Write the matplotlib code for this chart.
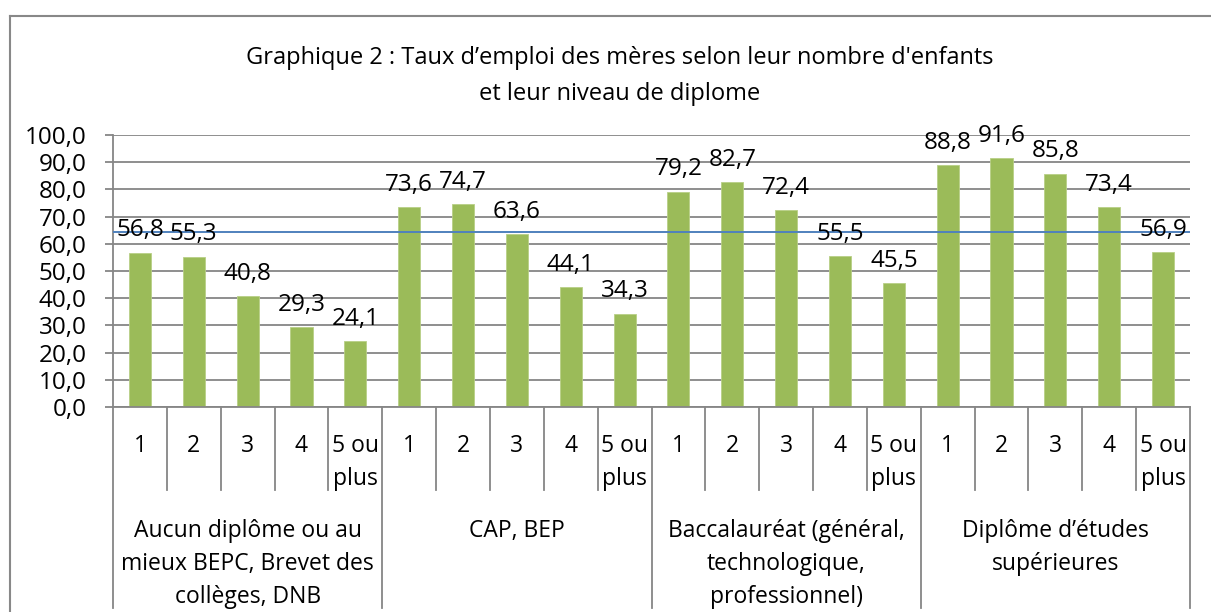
import matplotlib
matplotlib.use("Agg")
import matplotlib.pyplot as plt
from matplotlib import transforms
from matplotlib.lines import Line2D

plt.rcParams["font.family"] = ["Open Sans", "DejaVu Sans"]

# === DONNÉES ===
groupes = [
    ["Aucun diplôme ou au", "mieux BEPC, Brevet des", "collèges, DNB"],
    ["CAP, BEP"],
    ["Baccalauréat (général,", "technologique,", "professionnel)"],
    ["Diplôme d’études", "supérieures"],
]
nb_enfants = ["1", "2", "3", "4", "5 ou\nplus"]
taux = [
    [56.8, 55.3, 40.8, 29.3, 24.1],
    [73.6, 74.7, 63.6, 44.1, 34.3],
    [79.2, 82.7, 72.4, 55.5, 45.5],
    [88.8, 91.6, 85.8, 73.4, 56.9],
]
moyenne = 64.3
titre = ["Graphique 2 : Taux d’emploi des mères selon leur nombre d'enfants",
         "et leur niveau de diplome"]

W, H = 1211, 612
VERT = "#9BBB59"
BLEU = "#4F81BD"
GRIS = "#868686"
FS = 17.5
FS_CAT = 16.5
DY = 4  # petit décalage vertical des textes (px)


def fy(py):
    # pixel (depuis le haut) -> fraction de figure
    return 1 - py / H


fig = plt.figure(figsize=(W / 100, H / 100), dpi=100)
ax = fig.add_axes([113 / W, fy(407), (1190 - 113) / W, (407 - 135) / H])

valeurs = [v for g in taux for v in g]
x = list(range(len(valeurs)))
ax.bar(x, valeurs, width=0.41, color=VERT, edgecolor="#B8CF86", linewidth=0.6, zorder=2)
ax.axhline(moyenne, color=BLEU, lw=1.4, zorder=3)

for xi, v in zip(x, valeurs):
    ax.annotate(f"{v:.1f}".replace(".", ","), (xi, v), xytext=(0, 16),
                textcoords="offset points", ha="center", va="center",
                fontsize=FS, zorder=4)

ax.set_xlim(-0.5, len(valeurs) - 0.5)
ax.set_ylim(0, 100)
ax.set_yticks(range(0, 101, 10))
ax.set_yticklabels([f"{t},0" for t in range(0, 101, 10)], fontsize=FS)
ax.yaxis.grid(True, color=GRIS, lw=1.3, zorder=0)
ax.set_axisbelow(True)
ax.tick_params(axis="y", length=6, width=1.3, color=GRIS, pad=13)
ax.set_xticks([])
for s in ["top", "right"]:
    ax.spines[s].set_visible(False)
ax.spines["left"].set_color(GRIS)
ax.spines["left"].set_linewidth(1.3)
ax.spines["bottom"].set_color(GRIS)
ax.spines["bottom"].set_linewidth(1.3)

# axe des catégories à deux niveaux
tr = transforms.blended_transform_factory(ax.transData, fig.transFigure)
n = len(nb_enfants)
for i in range(len(valeurs) + 1):
    bas = 608 if i % n == 0 else 490
    ax.plot([i - 0.5, i - 0.5], [fy(407), fy(bas)], color=GRIS, lw=1.3,
            transform=tr, clip_on=False)

for gi, g in enumerate(groupes):
    for ci, lab in enumerate(nb_enfants):
        xi = gi * n + ci
        for li, ligne in enumerate(lab.split("\n")):
            ax.text(xi, fy(442 + DY + 33 * li), ligne, transform=tr, ha="center",
                    va="center", fontsize=FS_CAT)
    xc = gi * n + (n - 1) / 2
    for li, ligne in enumerate(g):
        ax.text(xc, fy(527 + DY + 33 * li), ligne, transform=tr, ha="center",
                va="center", fontsize=FS_CAT)

for li, ligne in enumerate(titre):
    fig.text(620 / W, fy(54 + DY + 36 * li), ligne, ha="center", va="center",
             fontsize=17)

# cadre du graphique
fig.add_artist(Line2D([10 / W, 10 / W], [fy(16), 0], color="#888888", lw=1.5))
fig.add_artist(Line2D([10 / W, 1], [fy(16), fy(16)], color="#888888", lw=1.5))

fig.savefig("out.png", dpi=100)
